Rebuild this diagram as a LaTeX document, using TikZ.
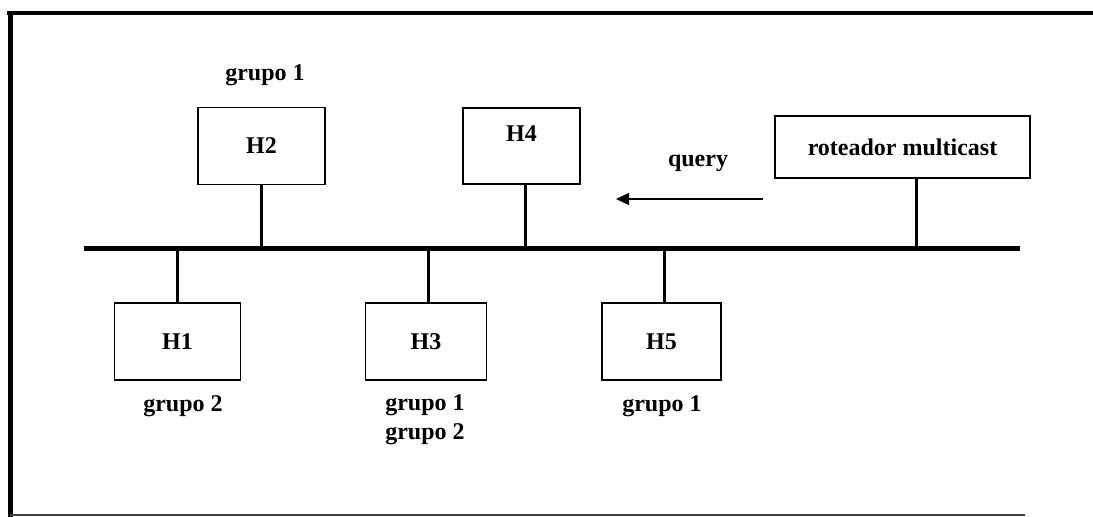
\documentclass[tikz,border=0pt]{standalone}
\usepackage{fontspec}
\setmainfont{Liberation Serif}
\usetikzlibrary{arrows.meta,positioning}

\newcommand{\lblfont}{\fontsize{24}{29}\selectfont\bfseries}

\tikzset{
  hostbox/.style={draw, line width=1.5pt, inner sep=0pt, minimum height=77pt, font=\lblfont},
  grplabel/.style={font=\lblfont, align=center, inner sep=0pt},
  stem/.style={line width=3pt},
}

\begin{document}
\begin{tikzpicture}[x=1pt,y=-1pt]
\useasboundingbox (0,0) rectangle (1093,517);

% frame
\draw[line width=4.5pt] (7,13) -- (1093,13);
\draw[line width=5pt] (10,11) -- (10,517);
\draw[line width=2pt, black!75] (10,515) -- (1025,515);

% Place nodes
\node[hostbox, minimum width=127pt] (h2) at (261.5,146) {H2};
\node[hostbox, minimum width=117pt, minimum height=76pt, text depth=24pt] (h4) at (521.5,146) {H4};
\node[hostbox, minimum width=255pt, minimum height=62pt] (rot) at (902.5,147) {roteador multicast};
\node[hostbox, minimum width=126pt] (h1) at (177.5,341.5) {H1};
\node[hostbox, minimum width=121pt] (h3) at (426,341.5) {H3};
\node[hostbox, minimum width=119pt] (h5) at (661.5,341.5) {H5};

\node[grplabel] (g2) at (265,75) {grupo 1};
\node[grplabel] (g1) at (183,406) {grupo 2};
\node[grplabel, anchor=north] (g3) at (425,394) {grupo 1\\grupo 2};
\node[grplabel] (g5) at (662,406) {grupo 1};
\node[grplabel] (qry) at (698,163) {query};

% bus
\coordinate (busL) at (84,248);
\coordinate (busR) at (1020,248);
\draw[line width=5pt] (busL) -- (busR);

\draw[stem] (h2.south) -- (h2.south |- busL);
\draw[stem] ([xshift=4pt]h4.south) -- ([xshift=4pt]h4.south |- busL);
\draw[stem] ([xshift=13.5pt]rot.south) -- ([xshift=13.5pt]rot.south |- busL);
\draw[stem] (h1.north) -- (h1.north |- busL);
\draw[stem] ([xshift=2pt]h3.north) -- ([xshift=2pt]h3.north |- busL);
\draw[stem] ([xshift=2.5pt]h5.north) -- ([xshift=2.5pt]h5.north |- busL);

% query arrow
\coordinate (qa) at (763,199);
\coordinate (qb) at (616,199);
\draw[line width=1.5pt, -{Triangle[length=13pt,width=12pt]}] (qa) -- (qb);

\end{tikzpicture}
\end{document}
